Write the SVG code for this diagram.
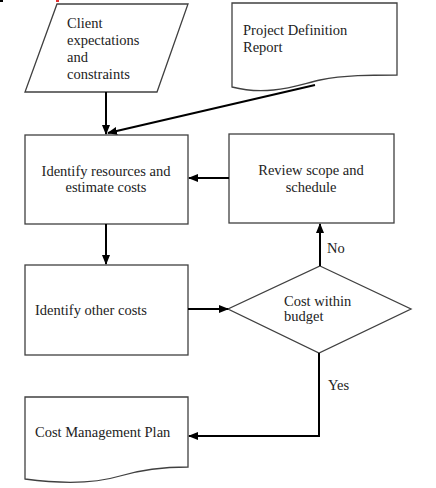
<svg xmlns="http://www.w3.org/2000/svg" width="436" height="488" viewBox="0 0 436 488">
<style>
.shape{fill:#fff;stroke:#404040;stroke-width:1.3}
.t{font-family:'Liberation Serif','Times New Roman','DejaVu Serif',serif;font-size:14.5px;fill:#222}
.c{stroke:#000;stroke-width:2;fill:none}
</style>
<defs>
<marker id="ah" markerWidth="10" markerHeight="8" refX="9" refY="4" orient="auto" markerUnits="userSpaceOnUse">
<path d="M0,0 L10,4 L0,8 Z" fill="#000"/>
</marker>
</defs>
<rect width="436" height="488" fill="#fff"/>
<rect x="0" y="0" width="3" height="2" fill="#000"/>
<rect x="56" y="0" width="3" height="2" fill="#e03030"/>
<g id="client">
<path class="shape" d="M57,4 L188,4 L157,92 L25,92 Z"/>
<text class="t" x="67" y="28">Client</text>
<text class="t" x="67" y="45">expectations</text>
<text class="t" x="67" y="62">and</text>
<text class="t" x="67" y="79">constraints</text>
</g>
<g id="pdr">
<path class="shape" d="M232,3 L397,3 L397,75 C370,75 345,75 320,80 C300,84 270,97 232,87 Z"/>
<text class="t" x="243" y="35">Project Definition</text>
<text class="t" x="243" y="52">Report</text>
</g>
<g id="identify-resources">
<rect class="shape" x="25" y="135" width="163" height="89"/>
<text class="t" x="106" y="176" text-anchor="middle">Identify resources and</text>
<text class="t" x="106" y="192" text-anchor="middle">estimate costs</text>
</g>
<g id="review">
<rect class="shape" x="229" y="134" width="165" height="89"/>
<text class="t" x="311" y="175" text-anchor="middle">Review scope and</text>
<text class="t" x="311" y="192" text-anchor="middle">schedule</text>
</g>
<g id="other-costs">
<rect class="shape" x="25" y="265" width="163" height="90"/>
<text class="t" x="35" y="315">Identify other costs</text>
</g>
<g id="budget">
<path class="shape" d="M320,266 L411,309 L319,353 L228,309 Z"/>
<text class="t" x="284" y="306">Cost within</text>
<text class="t" x="284" y="321">budget</text>
</g>
<g id="cmp">
<path class="shape" d="M25,397 L188,397 L188,467 C160,467 140,470 120,476 C100,482 70,485 25,479 Z"/>
<text class="t" x="35" y="437">Cost Management Plan</text>
</g>
<g id="connectors">
<line class="c" x1="106" y1="92" x2="106" y2="134" marker-end="url(#ah)"/>
<line class="c" x1="315" y1="85" x2="108" y2="133" marker-end="url(#ah)"/>
<line class="c" x1="229" y1="178" x2="189" y2="178" marker-end="url(#ah)"/>
<line class="c" x1="106" y1="224" x2="106" y2="264" marker-end="url(#ah)"/>
<line class="c" x1="188" y1="309" x2="228" y2="309" marker-end="url(#ah)"/>
<line class="c" x1="320" y1="266" x2="320" y2="224" marker-end="url(#ah)"/>
<polyline class="c" points="319,353 319,436 189,436" marker-end="url(#ah)"/>
<text class="t" x="327" y="253">No</text>
<text class="t" x="328" y="390">Yes</text>
</g>
</svg>
